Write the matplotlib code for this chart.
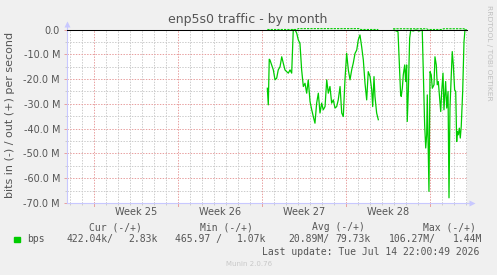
import numpy as np
import matplotlib.pyplot as plt

# time axis: days since the start of Week 25, values in Mbit/s (in traffic drawn negative)
days = [14.42, 14.50, 14.58, 14.64, 14.78, 14.92, 15.06, 15.20, 15.33, 15.48,
        15.62, 15.75, 15.89, 16.03, 16.17, 16.31, 16.45, 16.58, 16.73, 16.87,
        17.00, 17.14, 17.28, 17.42, 17.56, 17.70, 17.83, 17.98, 18.12, 18.25,
        18.39, 18.53, 18.67, 18.81, 18.95, 19.08, 19.23, 19.37, 19.50, 19.64,
        19.78, 19.92, 20.06, 20.20, 20.33, 20.48, 20.62, 20.75, 20.89, 21.03,
        21.17, 21.31, 21.45, 21.58, 21.73, 21.87, 22.00, 22.14, 22.28, 22.42,
        22.56, 22.70, 22.83, 22.98, 23.12, 23.20, 23.31, 23.39, 23.53, 23.67,
        23.80,
        24.98, 25.31, 25.53, 25.58, 25.67, 25.75, 25.87, 25.95, 26.03, 26.08,
        26.17, 26.28, 26.37, 26.56, 26.81, 27.06, 27.33, 27.53, 27.62, 27.70,
        27.75, 27.89, 27.98, 28.08, 28.17, 28.31, 28.39, 28.50, 28.58, 28.67,
        28.78, 28.87, 28.95, 29.06, 29.14, 29.28, 29.37, 29.48, 29.56, 29.64,
        29.75, 29.83, 29.92, 30.03, 30.12, 30.20, 30.25, 30.33, 30.42, 30.50,
        30.58, 30.70, 30.81, 30.89, 31.00]
bps_in = [-23.7, -30.4, -12.0, -12.3, -14.3, -16.3, -20.3, -19.6, -16.3, -15.0,
          -11.0, -13.6, -16.3, -17.0, -17.6, -16.3, -17.6, -0.2, -0.1, -1.5,
          -4.2, -5.6, -16.3, -23.0, -21.7, -25.7, -20.3, -29.1, -32.4, -35.1,
          -37.8, -29.7, -25.7, -33.7, -29.7, -32.4, -31.1, -20.3, -25.7, -23.0,
          -29.7, -28.4, -31.7, -31.1, -28.4, -23.0, -33.7, -35.1, -20.3, -9.6,
          -16.3, -20.3, -16.3, -13.6, -9.6, -8.3, -4.2, -2.2, -6.9, -12.3,
          -21.7, -28.4, -17.0, -19.0, -24.4, -31.1, -19.0, -27.0, -33.7, -36.4,
          np.nan,
          -0.2, -0.9, -26.4, -27.0, -23.7, -18.3, -14.3, -21.0, -14.3, -37.1,
          -25.0, -3.5, -0.2, -0.6, -0.2, -0.6, -0.2, -38.4, -47.8, -42.5,
          -26.4, -65.3, -17.0, -18.3, -23.7, -22.3, -11.0, -14.3, -22.3, -21.0,
          -27.7, -33.1, -25.0, -17.6, -32.4, -21.0, -31.7, -25.0, -67.9, -31.7,
          -18.3, -8.9, -14.3, -24.4, -25.0, -45.2, -41.1, -42.5, -39.8, -43.8,
          -39.1, -25.0, -4.9, -0.2, -0.2]

out_days = [14.42, 16.90, 17.00, 22.10, 22.20, 23.67, 23.80, 24.90, 25.00, 27.70,
            27.80, 29.00, 29.10, 30.80, 30.90, 31.00]
bps_out = [0.0, 0.0, 0.35, 0.35, 0.0, 0.0, np.nan, 0.3, 0.3, 0.3,
           0.0, 0.0, 0.3, 0.3, 0.0, 0.0]

week_starts = [0, 7, 14, 21, 28]
week_labels = ['Week 25', 'Week 26', 'Week 27', 'Week 28']
yticks = [0, -10, -20, -30, -40, -50, -60, -70]
ytick_labels = ['0.0', '-10.0 M', '-20.0 M', '-30.0 M', '-40.0 M', '-50.0 M', '-60.0 M', '-70.0 M']

legend_headers = ['Cur (-/+)', 'Min (-/+)', 'Avg (-/+)', 'Max (-/+)']
legend_values = ['422.04k/', '2.83k', '465.97 /', '1.07k', '20.89M/', '79.73k', '106.27M/', '1.44M']
last_update = 'Last update: Tue Jul 14 22:00:49 2026'

W, H = 497, 275
BG = '#f0f0f0'
TXT = '#555555'
GREEN = '#00cc00'
AXIS = '#c8c8ff'
MINOR = '#cccccc'
MAJOR = '#e8a0a0'


def fx(px):
    return px / W


def fy(py):
    return 1 - py / H


fig = plt.figure(figsize=(W / 100, H / 100), dpi=100, facecolor=BG)
ax = fig.add_axes([fx(67), fy(203), fx(400), 173.5 / H])
ax.set_facecolor('white')
ax.set_xlim(-2.275, 31.06)
ax.set_ylim(-70, 0)

dot = (0, (1.4, 1.4))
for d in range(-2, 32):
    if d not in week_starts:
        ax.axvline(d, color=MINOR, lw=0.72, ls=dot, zorder=1)
for v in range(-65, 0, 10):
    ax.axhline(v, color=MINOR, lw=0.72, ls=dot, zorder=1)
for d in week_starts:
    ax.axvline(d, color=MAJOR, lw=0.72, ls=dot, zorder=1.5)
for v in yticks:
    ax.axhline(v, color=MAJOR, lw=0.72, ls=dot, zorder=1.5)

ax.plot(days, bps_in, color=GREEN, lw=0.9, zorder=3, clip_on=False)
ax.axhline(0, color='black', lw=0.75, zorder=4, clip_on=False)
ax.plot(out_days, bps_out, color=GREEN, lw=0.8, ls=(0, (2, 1)), zorder=5, clip_on=False)

for s in ['top', 'right']:
    ax.spines[s].set_visible(False)
for s in ['left', 'bottom']:
    ax.spines[s].set_color(AXIS)
    ax.spines[s].set_linewidth(0.8)

ax.set_yticks(yticks, ytick_labels)
ax.set_yticks(range(-65, 0, 10), minor=True)
ax.set_xticks([w + 3.5 for w in week_starts[:-1]], week_labels)
ax.set_xticks([d for d in range(-2, 32) if d not in week_starts], minor=True)
ax.tick_params(axis='y', which='major', length=2.5, color=MAJOR, width=0.7,
               labelsize=7, labelcolor=TXT, pad=2.5)
ax.tick_params(axis='y', which='minor', length=1.5, color=MINOR, width=0.7)
ax.tick_params(axis='x', which='major', length=0, labelsize=7, labelcolor=TXT, pad=3)
ax.tick_params(axis='x', which='minor', length=1.5, color=MINOR, width=0.7)
for d in week_starts:
    ax.plot([d, d], [-70, -71.2], color=MAJOR, lw=0.7, clip_on=False, zorder=1)

# axis arrows
ax.plot([-2.275, -2.275], [0, 2.5], color=AXIS, lw=0.8, clip_on=False)
ax.plot([-2.275], [2.2], marker='^', ms=5, color=AXIS, mec='none', clip_on=False)
ax.plot([31.06, 31.5], [-70, -70], color=AXIS, lw=0.8, clip_on=False)
ax.plot([31.45], [-70], marker='>', ms=5, color=AXIS, mec='none', clip_on=False)

fig.text(fx(248), fy(19), 'enp5s0 traffic - by month', ha='center', va='center',
         fontsize=9, color=TXT)
fig.text(fx(10), fy(115), 'bits in (-) / out (+) per second', rotation=90,
         ha='center', va='center', fontsize=8, color=TXT)
fig.text(fx(488.5), fy(53), 'RRDTOOL / TOBI OETIKER', rotation=270,
         ha='center', va='center', fontsize=5.4, color='#c0c0c0')

mono = 'DejaVu Sans Mono'
for x, s in zip([89.3, 200, 312, 422.7], legend_headers):
    fig.text(fx(x), fy(227.5), s, ha='left', va='center', fontsize=7,
             family=mono, color=TXT)
fig.patches.append(plt.Rectangle((fx(14), fy(242)), fx(5.5), 5.5 / H,
                                 transform=fig.transFigure, color=GREEN))
fig.text(fx(26.7), fy(239), 'bps', ha='left', va='center', fontsize=7,
         family=mono, color=TXT)
for x, s in zip([66.7, 128.3, 175, 236.7, 288.5, 335.5, 389, 453], legend_values):
    fig.text(fx(x), fy(239), s, ha='left', va='center', fontsize=7,
             family=mono, color=TXT)
fig.text(fx(261.7), fy(251.7), last_update, ha='left', va='center', fontsize=7,
         family=mono, color=TXT)
fig.text(fx(249), fy(264), 'Munin 2.0.76', ha='center', va='center', fontsize=5,
         color='#c8c8c8')

fig.savefig('out.png', dpi=100, facecolor=BG)
